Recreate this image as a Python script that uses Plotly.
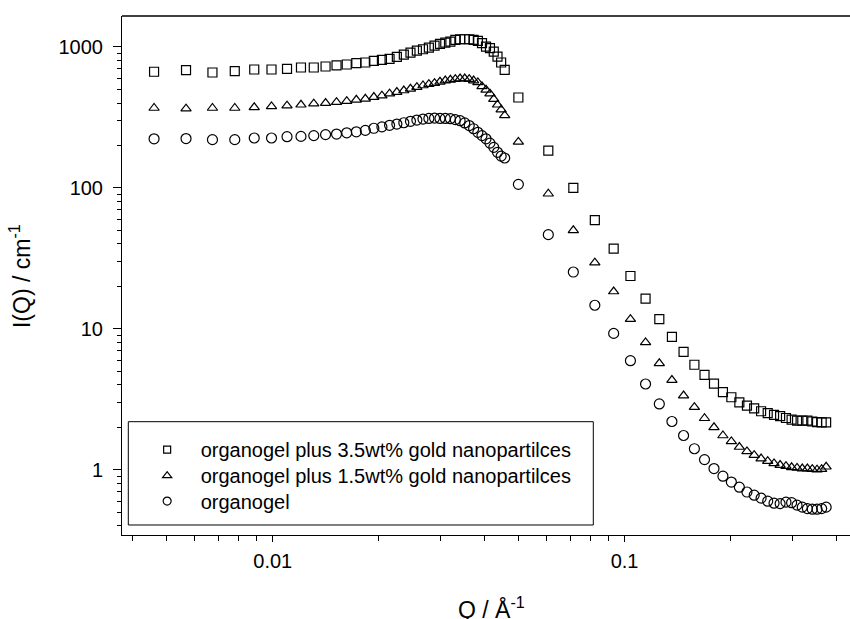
import plotly.graph_objects as go

# Shared scattering vector Q (1/Angstrom): low-Q detector set + high-Q set
q_values = [
    0.00460, 0.00567, 0.00674, 0.00780, 0.00886, 0.00992, 0.01098, 0.01203, 0.01308, 0.01413,
    0.01518, 0.01623, 0.01728, 0.01833, 0.01938, 0.02043, 0.02148, 0.02253, 0.02358, 0.02463,
    0.02568, 0.02673, 0.02778, 0.02883, 0.02988, 0.03093, 0.03198, 0.03303, 0.03408, 0.03513,
    0.03618, 0.03723, 0.03828, 0.03933, 0.04038, 0.04143, 0.04248, 0.04353, 0.04458, 0.04563,
    0.0499, 0.0607, 0.0715, 0.0823, 0.0931, 0.1039, 0.1147, 0.1255, 0.1363, 0.1471,
    0.1579, 0.1687, 0.1795, 0.1903, 0.2011, 0.2119, 0.2227, 0.2335, 0.2443, 0.2551,
    0.2659, 0.2767, 0.2875, 0.2983, 0.3091, 0.3199, 0.3307, 0.3415, 0.3523, 0.3631,
    0.3739,
]

# organogel plus 3.5wt% gold nanoparticles (squares)
i_gold35 = [
    667, 685, 659, 674, 692, 692, 700, 715, 715, 727,
    740, 751, 768, 776, 798, 811, 824, 851, 884, 913,
    943, 964, 990, 1023, 1052, 1074, 1092, 1122, 1135, 1135,
    1135, 1122, 1104, 1064, 1006, 981, 927, 855, 776, 689,
    438, 184, 100, 59.0, 37.1, 23.7, 16.4, 11.7, 8.78, 6.87,
    5.56, 4.72, 4.08, 3.55, 3.27, 3.01, 2.85, 2.73, 2.60, 2.52,
    2.45, 2.40, 2.33, 2.27, 2.23, 2.23, 2.23, 2.20, 2.18, 2.17,
    2.17,
]

# organogel plus 1.5wt% gold nanoparticles (triangles)
i_gold15 = [
    369, 365, 369, 369, 373, 379, 383, 389, 396, 400,
    406, 413, 422, 429, 441, 451, 466, 479, 491, 505,
    519, 533, 545, 554, 566, 578, 585, 591, 597, 597,
    591, 578, 560, 525, 497, 466, 427, 389, 359, 327,
    212, 90.9, 50.0, 29.5, 18.4, 11.7, 8.01, 5.69, 4.33, 3.36,
    2.78, 2.32, 2.00, 1.75, 1.59, 1.45, 1.35, 1.27, 1.20, 1.15,
    1.11, 1.08, 1.06, 1.04, 1.03, 1.02, 1.02, 1.01, 1.00, 1.01,
    1.05,
]

# organogel (circles)
i_gel = [
    223, 224, 220, 220, 226, 226, 231, 232, 235, 239,
    241, 246, 250, 256, 265, 271, 278, 284, 290, 297,
    303, 308, 311, 313, 311, 311, 310, 305, 300, 289,
    277, 263, 248, 235, 223, 208, 194, 179, 168, 163,
    106, 46.6, 25.3, 14.7, 9.28, 5.94, 4.06, 2.93, 2.20, 1.75,
    1.41, 1.18, 1.02, 0.90, 0.818, 0.752, 0.695, 0.660, 0.629, 0.598,
    0.579, 0.575, 0.589, 0.584, 0.561, 0.543, 0.530, 0.525, 0.525, 0.530,
    0.543,
]

series_names = [
    "organogel plus 3.5wt% gold nanopartilces",
    "organogel plus 1.5wt% gold nanopartilces",
    "organogel",
]

x_tick_vals = [0.01, 0.1]
x_tick_text = ["0.01", "0.1"]
x_minor_vals = [0.004, 0.005, 0.006, 0.007, 0.008, 0.009,
                0.02, 0.03, 0.04, 0.05, 0.06, 0.07, 0.08, 0.09,
                0.2, 0.3, 0.4]
y_tick_vals = [1, 10, 100, 1000]
y_tick_text = ["1", "10", "100", "1000"]
y_minor_vals = [0.4, 0.5, 0.6, 0.7, 0.8, 0.9,
                2, 3, 4, 5, 6, 7, 8, 9,
                20, 30, 40, 50, 60, 70, 80, 90,
                200, 300, 400, 500, 600, 700, 800, 900]

FONT = "Liberation Sans, Arial, sans-serif"

fig = go.Figure()
styles = [("square-open", 9, 7), ("triangle-up-open", 9, 8), ("circle-open", 10, 8)]
legend_ids = ["legend", "legend2", "legend3"]
for name, yv, (sym, sz, lsz), lid in zip(series_names, [i_gold35, i_gold15, i_gel], styles, legend_ids):
    fig.add_trace(go.Scatter(
        x=q_values, y=yv, mode="markers", name=name, showlegend=False,
        marker=dict(symbol=sym, size=sz, color="black",
                    line=dict(color="black", width=1.2)),
    ))
    # legend entry (smaller symbol, as in the reference legend)
    fig.add_trace(go.Scatter(
        x=[None], y=[None], mode="markers", name=name, showlegend=True, legend=lid,
        marker=dict(symbol=sym, size=lsz, color="black",
                    line=dict(color="black", width=1.2)),
    ))

def leg(ypos):
    return dict(
        x=0.016, y=ypos, xanchor="left", yanchor="top",
        bgcolor="rgba(0,0,0,0)", borderwidth=0,
        font=dict(family=FONT, size=20, color="black"),
        itemwidth=57,
    )

fig.update_layout(
    width=850, height=619,
    margin=dict(l=122, r=0, t=16, b=84),
    paper_bgcolor="white", plot_bgcolor="white",
    font=dict(family=FONT, size=20, color="black"),
    showlegend=True,
    legend=leg(0.2021),
    legend2=leg(0.1520),
    legend3=leg(0.1029),
    xaxis=dict(
        type="log", range=[-2.4284, -0.3594],
        showline=True, linecolor="black", linewidth=1,
        ticks="outside", ticklen=6, tickwidth=1, tickcolor="black",
        tickvals=x_tick_vals, ticktext=x_tick_text,
        ticklabelstandoff=2,
        minor=dict(ticks="outside", ticklen=4.5, tickwidth=1, tickcolor="black",
                   tickvals=x_minor_vals, showgrid=False),
        showgrid=False, zeroline=False,
        tickfont=dict(family=FONT, size=20),
    ),
    yaxis=dict(
        type="log", range=[-0.463, 3.2199],
        showline=True, linecolor="black", linewidth=1,
        ticks="outside", ticklen=8, tickwidth=1, tickcolor="black",
        tickvals=y_tick_vals, ticktext=y_tick_text,
        ticklabelstandoff=6,
        minor=dict(ticks="outside", ticklen=4.5, tickwidth=1, tickcolor="black",
                   tickvals=y_minor_vals, showgrid=False),
        showgrid=False, zeroline=False,
        tickfont=dict(family=FONT, size=20),
    ),
    shapes=[
        dict(type="line", xref="paper", yref="paper", x0=0, x1=1, y0=1, y1=1,
             line=dict(color="black", width=1.5)),
        dict(type="rect", xref="paper", yref="paper",
             x0=0.00865, x1=0.6474, y0=0.01927, y1=0.2183,
             line=dict(color="black", width=1), fillcolor="rgba(0,0,0,0)"),
    ],
    annotations=[
        dict(text="Q / Å<sup>-1</sup>", xref="paper", yref="paper",
             x=0.5069, y=-0.1416, xanchor="center", yanchor="middle",
             showarrow=False, font=dict(family=FONT, size=23)),
        dict(text="I(Q) / cm<sup>-1</sup>", xref="paper", yref="paper",
             x=-0.1401, y=0.499, xanchor="center", yanchor="middle",
             textangle=-90, showarrow=False, font=dict(family=FONT, size=23)),
    ],
)

fig.write_html("out.html")
